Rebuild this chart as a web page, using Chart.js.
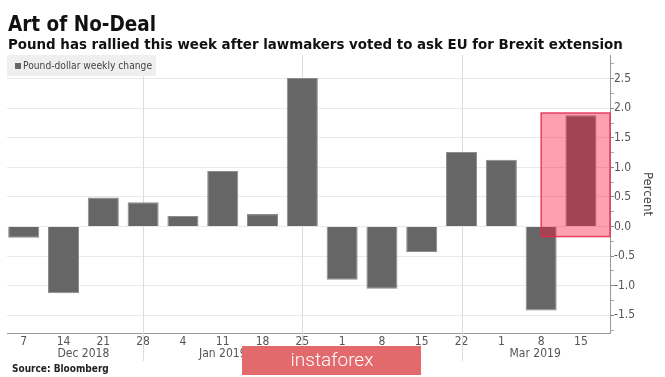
<!DOCTYPE html>
<html>
<head>
<meta charset="utf-8">
<script src="https://cdn.jsdelivr.net/npm/chart.js@4/dist/chart.umd.min.js"></script>
<style>
  html, body { margin: 0; padding: 0; background: #fff; }
  canvas { display: block; }
</style>
</head>
<body>
<canvas id="chart" width="665" height="377"></canvas>
<script>
// Weekly GBP/USD change, Dec 2018 - Mar 2019
const dayLabels = ['7', '14', '21', '28', '4', '11', '18', '25', '1', '8', '15', '22', '1', '8', '15'];
const weeklyChange = [-0.19, -1.13, 0.49, 0.41, 0.18, 0.94, 0.21, 2.51, -0.90, -1.05, -0.43, 1.26, 1.13, -1.42, 1.88];
const monthLabels = ['Dec 2018', 'Jan 2019', 'Feb 2019', 'Mar 2019'];
const monthCenters = [1.5, 5, 9, 12.85];
const monthBreaks = [3, 7, 11];
const yMajorTicks = [-1.5, -1, -0.5, 0, 0.5, 1, 1.5, 2, 2.5];
const yMinorTicks = [-1.75, -1.25, -0.75, -0.25, 0.25, 0.75, 1.25, 1.75, 2.25, 2.75];
// highlighted week (index range, percent range)
const highlightX = [13, 14.75];
const highlightY = [-0.17, 1.92];

const FONT = '"DejaVu Sans Condensed", "DejaVu Sans", sans-serif';
Chart.defaults.font.family = FONT;

const isMajor = (v) => yMajorTicks.includes(v);
const fmtPct = (v) => (v < 0 ? '-' : '') + Math.abs(v).toFixed(1);

const decor = {
  id: 'decor',
  beforeDatasetsDraw(chart) {
    const { ctx, chartArea, scales: { x } } = chart;
    ctx.save();
    ctx.strokeStyle = '#dddddd';
    ctx.lineWidth = 1;
    monthBreaks.forEach((i) => {
      const px = Math.round(x.getPixelForValue(i)) + 0.5;
      ctx.beginPath();
      ctx.moveTo(px, chartArea.top);
      ctx.lineTo(px, 361);
      ctx.stroke();
    });
    ctx.restore();
  },
  afterDatasetsDraw(chart) {
    const { ctx, chartArea, scales: { x, y } } = chart;
    const left = x.getPixelForValue(highlightX[0]);
    const right = Math.min(x.getPixelForValue(highlightX[1]), chartArea.right);
    const top = y.getPixelForValue(highlightY[1]);
    const bottom = y.getPixelForValue(highlightY[0]);
    ctx.save();
    ctx.fillStyle = 'rgba(250, 20, 60, 0.4)';
    ctx.fillRect(left, top, right - left, bottom - top);
    ctx.strokeStyle = 'rgba(228, 40, 75, 0.85)';
    ctx.lineWidth = 1.5;
    ctx.strokeRect(left, top, right - left, bottom - top);
    ctx.restore();
  },
  afterDraw(chart) {
    const { ctx, scales: { x } } = chart;
    ctx.save();

    // titles
    ctx.textBaseline = 'alphabetic';
    ctx.textAlign = 'left';
    ctx.fillStyle = '#111';
    ctx.font = 'bold 20.5px ' + FONT;
    ctx.fillText('Art of No-Deal', 8, 31);
    ctx.font = 'bold 14.9px ' + FONT;
    ctx.fillText('Pound has rallied this week after lawmakers voted to ask EU for Brexit extension', 8, 49);

    // legend
    ctx.fillStyle = '#efefef';
    ctx.fillRect(7, 55, 149, 21);
    ctx.fillStyle = '#666';
    ctx.fillRect(15, 63, 6, 6);
    ctx.fillStyle = '#444';
    ctx.font = '10.2px ' + FONT;
    ctx.textBaseline = 'middle';
    ctx.fillText(chart.data.datasets[0].label, 23, 66);

    // month labels
    ctx.fillStyle = '#555';
    ctx.font = '12px ' + FONT;
    ctx.textAlign = 'center';
    monthLabels.forEach((m, i) => {
      ctx.fillText(m, x.getPixelForValue(monthCenters[i]), 354);
    });

    // source
    ctx.textAlign = 'left';
    ctx.fillStyle = '#222';
    ctx.font = 'bold 10px ' + FONT;
    ctx.fillText('Source: Bloomberg', 12, 369);

    // watermark
    ctx.fillStyle = '#e26a6d';
    ctx.fillRect(242, 346, 179, 29);
    ctx.fillStyle = '#fff';
    ctx.font = '300 19px Roboto, sans-serif';
    ctx.textAlign = 'center';
    ctx.fillText('instaforex', 332, 361);

    ctx.restore();
  }
};

new Chart(document.getElementById('chart'), {
  type: 'bar',
  data: {
    datasets: [{
      label: 'Pound-dollar weekly change',
      data: weeklyChange.map((v, i) => ({ x: i, y: v })),
      backgroundColor: '#666666',
      borderColor: '#8c8c8c',
      borderWidth: 1,
      barPercentage: 0.78,
      categoryPercentage: 1
    }]
  },
  options: {
    responsive: false,
    animation: false,
    layout: { padding: { top: 55, left: 7, right: 0, bottom: 0 } },
    plugins: {
      legend: { display: false },
      title: { display: false },
      tooltip: { enabled: false }
    },
    scales: {
      x: {
        type: 'linear',
        min: -0.42,
        max: 14.73,
        offset: false,
        afterBuildTicks: (s) => { s.ticks = dayLabels.map((_, i) => ({ value: i })); },
        afterFit: (s) => { s.height = 44; },
        grid: { display: false, drawTicks: false },
        border: { display: true, color: '#999' },
        ticks: {
          autoSkip: false,
          maxRotation: 0,
          padding: 2,
          color: '#555',
          font: { size: 12 },
          callback: (v) => dayLabels[v]
        }
      },
      y: {
        position: 'right',
        min: -1.8,
        max: 2.9,
        afterBuildTicks: (s) => {
          s.ticks = yMinorTicks.concat(yMajorTicks).sort((a, b) => a - b).map((v) => ({ value: v }));
        },
        afterFit: (s) => { s.width = 55; },
        grid: {
          color: (c) => (isMajor(c.tick.value) ? '#e9e9e9' : 'rgba(0,0,0,0)'),
          tickColor: (c) => (isMajor(c.tick.value) ? '#888' : '#aaa'),
          tickLength: 4
        },
        border: { color: '#999' },
        ticks: {
          autoSkip: false,
          padding: 0,
          color: '#555',
          font: { size: 12 },
          callback: (v) => (isMajor(v) ? fmtPct(v) : '')
        },
        title: {
          display: true,
          text: 'Percent',
          color: '#444',
          font: { size: 13 },
          padding: { top: 10, bottom: 0 }
        }
      }
    }
  },
  plugins: [decor]
});
</script>
</body>
</html>
